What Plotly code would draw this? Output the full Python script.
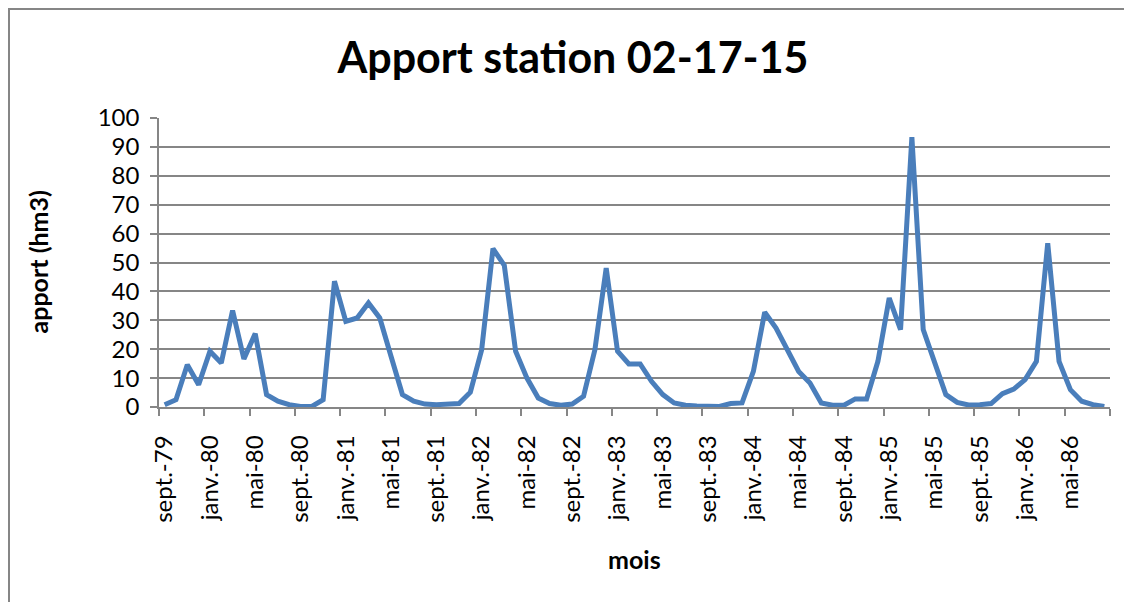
import plotly.graph_objects as go

# ---- data ----
month_names = ["sept.", "oct.", "nov.", "déc.", "janv.", "févr.", "mars", "avr.",
               "mai", "juin", "juil.", "août"]
years = ["79", "80", "81", "82", "83", "84", "85", "86"]

months = []
for k in range(84):
    m = k % 12
    y = years[(k + 8) // 12]
    months.append(f"{month_names[m]}-{y}")

apport = [0.8, 2.5, 14.6, 7.7, 19.3, 15.2, 33.4, 16.6, 25.4, 4.3, 2.0, 0.8,
          0.2, 0.2, 2.5, 43.5, 29.6, 30.8, 36.0, 30.8, 17.5, 4.3, 2.0, 1.0,
          0.8, 0.9, 1.2, 5.1, 19.8, 54.8, 49.0, 19.3, 10.0, 3.1, 1.2, 0.6,
          1.0, 3.7, 19.8, 48.1, 19.3, 14.9, 14.9, 8.9, 4.3, 1.4, 0.6, 0.35,
          0.2, 0.2, 1.2, 1.4, 12.3, 32.8, 27.3, 19.8, 12.3, 8.3, 1.4, 0.6,
          0.6, 2.8, 2.8, 15.8, 37.7, 26.8, 93.4, 26.8, 15.8, 4.3, 1.6, 0.7,
          0.8, 1.2, 4.6, 6.2, 9.5, 15.8, 56.7, 15.8, 6.0, 2.0, 0.8, 0.2]

title_text = "Apport station 02-17-15"
y_title = "apport (hm3)"
x_title = "mois"

# ---- figure (page body has an 8px margin, so the figure is offset by 8px) ----
OFF = 8
W, H = 1132 - OFF, 602 - OFF
L, R, T, B = 159 - OFF, 22, 118 - OFF, 195
pw = W - L - R
ph = H - T - B

def px_x(p):
    return (p - OFF - L) / pw

def px_y(p):
    return (H - B - (p - OFF)) / ph

idx = list(range(len(months)))
label_pos = idx[::4]
label_txt = months[::4]
bound_pos = [i - 0.5 for i in range(0, len(months) + 1, 4)]

FONT = "Lato"
GRID = "#868686"

fig = go.Figure()
fig.add_trace(go.Scatter(
    x=idx, y=apport, mode="lines",
    line=dict(color="rgb(74,126,187)", width=5),
    hovertext=months, showlegend=False,
))

fig.update_layout(
    width=W, height=H,
    margin=dict(l=L, r=R, t=T, b=B),
    paper_bgcolor="white", plot_bgcolor="white",
    font=dict(family=FONT, color="black"),
    title=dict(text=f"<b>{title_text}</b>", x=(573 - OFF) / W, xref="container",
               xanchor="center", y=1 - (58 - OFF) / H, yanchor="middle",
               font=dict(size=43, family=FONT, color="black")),
    xaxis=dict(
        range=[-0.5, len(months) - 0.5],
        tickmode="array", tickvals=label_pos, ticktext=label_txt,
        ticks="", tickangle=-90, tickfont=dict(size=24, family=FONT),
        ticklabelstandoff=17,
        showgrid=False, zeroline=False,
        showline=True, linecolor=GRID, linewidth=1.6,
        minor=dict(tickmode="array", tickvals=bound_pos, ticks="outside",
                   ticklen=7, tickwidth=1.6, tickcolor=GRID, showgrid=False),
    ),
    yaxis=dict(
        range=[0, 100], dtick=10, tick0=0,
        ticks="outside", ticklen=7, tickwidth=1.6, tickcolor=GRID,
        tickfont=dict(size=24, family=FONT),
        ticklabelstandoff=6,
        showgrid=True, gridcolor=GRID, gridwidth=1.6,
        zeroline=False, showline=True, linecolor=GRID, linewidth=1.6,
    ),
    annotations=[
        dict(text=f"<b>{y_title}</b>", x=px_x(37), y=0.5, xref="paper", yref="paper",
             textangle=-90, showarrow=False, xanchor="center", yanchor="middle",
             font=dict(size=25, family=FONT, color="black")),
        dict(text=f"<b>{x_title}</b>", x=0.5, y=px_y(559), xref="paper", yref="paper",
             showarrow=False, xanchor="center", yanchor="middle",
             font=dict(size=25, family=FONT, color="black")),
    ],
    shapes=[
        dict(type="rect", xref="paper", yref="paper",
             x0=px_x(OFF + 1), x1=px_x(1160), y0=px_y(OFF + 1), y1=px_y(640),
             line=dict(color="#868686", width=2), fillcolor="rgba(0,0,0,0)",
             layer="above"),
    ],
)

fig.write_html("out.html")
